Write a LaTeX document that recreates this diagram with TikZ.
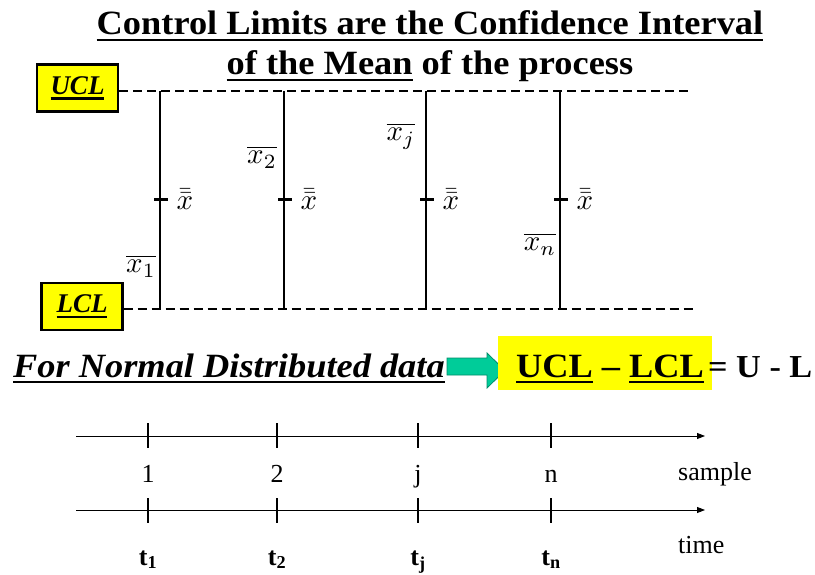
\documentclass[tikz,border=0pt]{standalone}
\usepackage{graphicx}
\usepackage{fontspec}
\setmainfont{Liberation Serif}
\newfontfamily\headfont[FakeStretch=1.07]{Liberation Serif}
\usetikzlibrary{arrows.meta, calc}

\definecolor{hiyellow}{RGB}{255,255,0}
\definecolor{arrowgreen}{RGB}{0,204,153}
\definecolor{arrowedge}{RGB}{0,140,105}

% thick underline as in the slide
\newcommand{\thickul}[1]{\setbox0\hbox{#1}\rlap{\rule[-0.19em]{\wd0}{0.085em}}\box0\relax}
\newcommand{\bigmath}[1]{\scalebox{2.9}{$#1$}}

\tikzset{
	limit/.style={line width=1.8pt, dash pattern=on 9pt off 5pt},
	limitbox/.style={draw, line width=2.2pt, fill=hiyellow, inner sep=0pt,
		minimum width=81pt, minimum height=47pt,
		font=\bfseries\itshape\fontsize{27}{30}\selectfont},
	headline/.style={inner sep=0pt, font=\headfont\bfseries\fontsize{34}{38}\selectfont},
	bar/.style={line width=1.8pt},
	meantick/.style={line width=3pt},
	axis/.style={line width=0.9pt, -{Triangle[length=8pt, width=6pt]}},
	axistick/.style={line width=1.8pt},
	lbl/.style={inner sep=0pt, font=\fontsize{26}{28}\selectfont},
	mathlbl/.style={inner sep=0pt},
}

\begin{document}
\begin{tikzpicture}[x=1pt, y=-1pt]
	\useasboundingbox (0,0) rectangle (815,575);

	% title
	\node [headline, anchor=base] (title1) at (430,35)
		{\thickul{Control Limits are the Confidence Interval}};
	\node [headline, anchor=base] (title2) at (430,75)
		{\thickul{of the Mean} of the process};

	% control limits
	\node [limitbox] (ucl) at (77.5,88) {\thickul{UCL}};
	\node [limitbox] (lcl) at (82,306.5) {\thickul{LCL}};
	\coordinate (uclend) at (693,91);
	\coordinate (lclend) at (693,309);
	\draw [limit] (ucl.east |- uclend) -- (uclend);
	\draw [limit] (lcl.east |- lclend) -- (lclend);

	% samples
	\foreach \i/\xx in {1/160, 2/284, j/426, n/560} {
		\coordinate (top\i) at (\xx,91);
		\coordinate (bot\i) at (\xx,309);
		\draw [bar] (top\i) -- (bot\i);
		\draw [meantick] ($(top\i)!0.5!(bot\i)+(-6,0)$) -- +(14,0);
		\node [mathlbl] (grand\i) at (\xx+25,199) {\bigmath{\bar{\bar{x}}}};
	}
	\node [mathlbl] (mean1) at (141,266) {\bigmath{\overline{x_1}}};
	\node [mathlbl] (mean2) at (262,157) {\bigmath{\overline{x_2}}};
	\node [mathlbl] (meanj) at (401,136) {\bigmath{\overline{x_j}}};
	\node [mathlbl] (meann) at (540,244) {\bigmath{\overline{x_n}}};

	% normal data statement
	\node [headline, anchor=base west, font=\headfont\bfseries\itshape\fontsize{34}{38}\selectfont]
		(normal) at (13,377) {\thickul{For Normal Distributed data}};
	\fill [arrowgreen, draw=arrowedge, line width=0.8pt]
		(447,358) -- (487,358) -- (487,353) -- (505,370.5) -- (487,388) -- (487,375) -- (447,375) -- cycle;
	\node [fill=hiyellow, minimum width=214pt, minimum height=54pt, inner sep=0pt] (range) at (605,363) {};
	\node [headline, anchor=base] (rangetxt) at (610,377) {\thickul{UCL} – \thickul{LCL}};
	\node [headline, anchor=base west, font=\headfont\bfseries\fontsize{32}{36}\selectfont]
		(spec) at (708,377) {= U - L};

	% sample and time axes
	\coordinate (s0) at (76,436);
	\coordinate (s1) at (705,436);
	\coordinate (t0) at (76,510);
	\coordinate (t1) at (705,510);
	\draw [axis] (s0) -- (s1);
	\draw [axis] (t0) -- (t1);
	\foreach \i/\xx in {1/148, 2/277, j/418, n/551} {
		\draw [axistick] (\xx,423) -- (\xx,448);
		\draw [axistick] (\xx,498) -- (\xx,523);
		\node [lbl, anchor=base] (num\i) at (\xx,482) {\i};
		\node [lbl, anchor=base] (time\i) at (\xx,565) {\textbf{t\textsubscript{\i}}};
	}
	\node [lbl, anchor=base west] (samplelbl) at (678,480) {sample};
	\node [lbl, anchor=base west] (timelbl) at (678,553) {time};
\end{tikzpicture}
\end{document}
